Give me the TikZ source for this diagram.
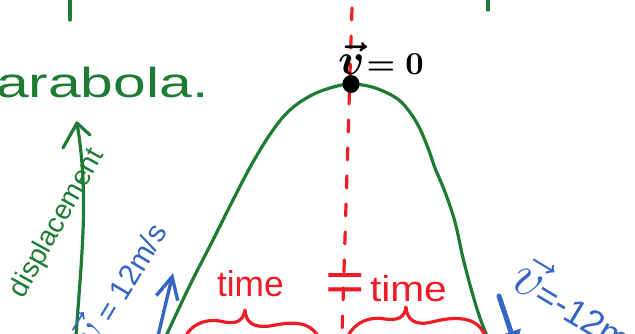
\documentclass[tikz,border=0pt]{standalone}
\usepackage{graphicx}
\usepackage{fontspec}
\setmainfont{Liberation Sans}
\usetikzlibrary{arrows.meta}
\definecolor{pgreen}{HTML}{1E7B34}
\definecolor{pred}{HTML}{EE1C25}
\definecolor{pblue}{HTML}{3566C4}
\begin{document}
\begin{tikzpicture}[x=1pt,y=-1pt,line cap=round,line join=round,
  gline/.style={draw=pgreen,line width=3.2pt},
  rline/.style={draw=pred,line width=3.2pt},
  bline/.style={draw=pblue,line width=3.4pt},
  hand/.style={inner sep=0pt,outer sep=0pt}]
\useasboundingbox (0,0) rectangle (635,333);
\clip (0,0) rectangle (635,333);
% top ticks
\draw[gline] (70,0) -- (70,20);
\draw[gline] (488,0) -- (488,10);
% title fragment
\node[hand,anchor=base west,text=pgreen,xscale=1.4,font=\fontsize{42}{42}\selectfont] (title) at (-4,97) {arabola.};
% displacement axis
\coordinate (ytop) at (77,123);
\coordinate (ybot) at (76,336);
\draw[gline] (ybot) .. controls (82,250) and (89,195) .. (ytop);
\draw[gline] (63,148) -- (ytop) -- (90,135);
\node[hand,anchor=base west,rotate=61,text=pgreen,font=\fontsize{28}{28}\selectfont] (disp) at (24,299) {displacement};
% parabola
\draw[gline] plot[smooth,tension=0.6] coordinates {(166,336) (190,285) (213,240) (233,200) (253,162) (273,130) (290,110) (310,96) (330,88) (350,84) (372,87) (393,96) (405,106) (418,125) (428,148) (435,168) (445,192) (455,222) (463,258) (472,292) (480,318) (487,336)};
% red dashed axis
\coordinate (atop) at (352,8);
\coordinate (abot) at (342,336);
\draw[rline,dash pattern=on 12pt off 16pt] (atop) -- (abot);
% apex dot and label
\fill (351,84) ellipse (8.5 and 9);
\node[hand,anchor=base west] (v0) at (338,74) {\scalebox{4.4}{\boldmath$\vec{v}$}\hspace{2pt}\scalebox{3.2}{\boldmath$=0$}};
% blue left
\node[hand,anchor=base east,rotate=59,text=pblue,font=\fontsize{30}{30}\selectfont] (vl) at (168,232) {\scalebox{2}{$\vec{v}$} = 12m/s};
\coordinate (bl0) at (158,336);
\coordinate (bl1) at (173,273);
\draw[bline,-{Straight Barb[length=22pt,width=22pt]}] (bl0) -- (bl1);
% red labels
\node[hand,anchor=base west,text=pred,font=\fontsize{36}{36}\selectfont,xscale=0.98] (time1) at (217,296) {time};
\node[hand,anchor=base west,text=pred,font=\fontsize{36}{36}\selectfont,xscale=1.13] (time2) at (370,301) {time};
\node[hand,text=pred,font=\fontsize{52}{52}\selectfont,xscale=1.3,yscale=1.1] (eq) at (345,287) {=};
% braces
\draw[rline] (186,336) .. controls (190,326) and (205,318) .. (220,321)
  .. controls (235,325) and (243,322) .. (245,310)
  .. controls (246,322) and (252,328) .. (270,326)
  .. controls (290,322) and (308,320) .. (318,336);
\draw[rline] (348,336) .. controls (355,322) and (370,316) .. (385,319)
  .. controls (398,321) and (405,317) .. (406,307)
  .. controls (407,320) and (415,326) .. (432,322)
  .. controls (455,316) and (478,316) .. (485,336);
% blue right
\node[hand,anchor=base west,rotate=-31,text=pblue,font=\fontsize{36}{36}\selectfont] (vr) at (508,286) {\scalebox{2.3}{$\vec{v}$}=-12m/s};
\coordinate (br0) at (499,296);
\coordinate (br1) at (516,347);
\draw[pblue,line width=5pt,-{Triangle[length=16pt,width=20pt]}] (br0) -- (br1);
\end{tikzpicture}
\end{document}
